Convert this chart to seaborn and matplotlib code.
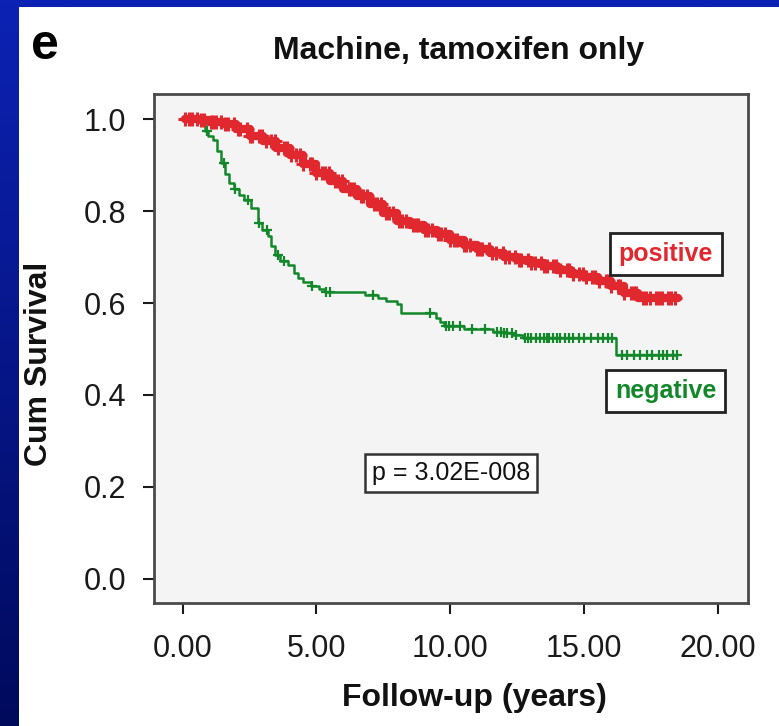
import numpy as np
import pandas as pd
import matplotlib
matplotlib.use("Agg")
import matplotlib.pyplot as plt
from matplotlib.colors import LinearSegmentedColormap
from matplotlib.patches import Rectangle
import seaborn as sns

# ---------------- data ----------------
pos_times = [0.10, 0.60, 1.00, 1.50, 2.00, 2.50, 3.00, 3.50, 4.00, 4.50, 5.00,
             5.50, 6.00, 6.50, 7.00, 7.50, 8.00, 8.50, 9.00, 9.50, 10.00, 10.50,
             11.00, 11.50, 12.00, 12.50, 13.00, 13.50, 14.00, 14.50, 15.00,
             15.50, 16.00, 16.50, 17.00, 17.50, 18.50]
pos_surv = [1.000, 0.998, 0.995, 0.990, 0.978, 0.963, 0.952, 0.938, 0.922,
            0.902, 0.884, 0.866, 0.848, 0.832, 0.815, 0.795, 0.779, 0.770,
            0.760, 0.751, 0.738, 0.726, 0.717, 0.708, 0.701, 0.694, 0.687,
            0.680, 0.672, 0.664, 0.657, 0.648, 0.636, 0.622, 0.612, 0.610, 0.610]
pos_censor = [0.10, 0.25, 0.35, 0.55, 0.70, 0.80, 1.05, 1.15, 1.25, 1.45, 1.60,
              1.70, 1.90, 2.05, 2.15, 2.40, 2.50, 2.60, 2.85, 2.95, 3.10, 3.30,
              3.45, 3.55, 3.80, 3.90, 4.05, 4.25, 4.40, 4.50, 4.75, 4.85, 5.00,
              5.20, 5.30, 5.45, 5.70, 5.80, 5.95, 6.20, 6.30, 6.40, 6.65, 6.75,
              6.90, 7.15, 7.25, 7.40, 7.60, 7.70, 7.85, 8.10, 8.20, 8.35, 8.60,
              8.70, 8.80, 9.05, 9.15, 9.30, 9.55, 9.65, 9.80, 10.00, 10.15,
              10.25, 10.50, 10.60, 10.75, 11.00, 11.10, 11.20, 11.45, 11.55,
              11.70, 11.95, 12.05, 12.20, 12.40, 12.55, 12.65, 12.90, 13.00,
              13.15, 13.40, 13.50, 13.60, 13.85, 13.95, 14.10, 14.35, 14.45,
              14.60, 14.80, 14.95, 15.05, 15.30, 15.40, 15.55, 15.80, 15.90,
              16.00, 16.25, 16.35, 16.50, 16.75, 16.85, 16.95, 17.20, 17.30,
              17.45, 17.70, 17.80, 17.90, 18.15, 18.25, 18.40]

neg_times = [0.15, 0.72, 0.85, 0.95, 1.15, 1.30, 1.45, 1.60, 1.75, 1.90, 2.10,
             2.30, 2.55, 2.80, 2.95, 3.20, 3.30, 3.45, 3.65, 3.95, 4.15, 4.30,
             4.50, 4.80, 5.10, 5.30, 6.80, 7.30, 7.60, 8.00, 8.15, 9.45, 9.60,
             9.75, 10.50, 11.60, 12.00, 12.35, 12.70, 16.20, 18.45]
neg_surv = [1.000, 0.993, 0.975, 0.963, 0.955, 0.930, 0.905, 0.880, 0.862,
            0.848, 0.836, 0.824, 0.806, 0.775, 0.760, 0.745, 0.725, 0.705,
            0.692, 0.682, 0.665, 0.655, 0.645, 0.638, 0.630, 0.625, 0.618,
            0.610, 0.605, 0.597, 0.578, 0.567, 0.558, 0.549, 0.544, 0.538,
            0.535, 0.530, 0.524, 0.487, 0.487]
neg_censor = [0.90, 1.55, 1.95, 2.45, 2.85, 3.15, 3.55, 3.80, 4.85, 5.35, 5.50,
              7.10, 9.25, 9.85, 9.95, 10.10, 10.35, 10.80, 11.30, 11.75, 11.90,
              12.00, 12.10, 12.30, 12.45, 12.80, 12.90, 13.00, 13.20, 13.35,
              13.50, 13.60, 13.70, 13.85, 14.00, 14.10, 14.30, 14.45, 14.60,
              14.80, 15.00, 15.25, 15.50, 15.70, 15.90, 16.05, 16.40, 16.60,
              16.85, 17.10, 17.35, 17.55, 17.80, 17.95, 18.10, 18.30, 18.45]

x_ticks = [0, 5, 10, 15, 20]
x_tick_labels = ["0.00", "5.00", "10.00", "15.00", "20.00"]
y_ticks = [0.0, 0.2, 0.4, 0.6, 0.8, 1.0]
y_tick_labels = ["0.0", "0.2", "0.4", "0.6", "0.8", "1.0"]
p_text = "p = 3.02E-008"

RED = "#e0282e"
GREEN = "#13882a"


def surv_at(times, survs, t):
    times = np.asarray(times)
    idx = np.searchsorted(times, t, side="right") - 1
    idx = np.clip(idx, 0, len(survs) - 1)
    return np.asarray(survs)[idx]


pos_df = pd.DataFrame({"t": pos_times, "s": pos_surv})
neg_df = pd.DataFrame({"t": neg_times, "s": neg_surv})
pos_c = pd.DataFrame({"t": pos_censor, "s": surv_at(pos_times, pos_surv, pos_censor)})
neg_c = pd.DataFrame({"t": neg_censor, "s": surv_at(neg_times, neg_surv, neg_censor)})

# ---------------- style ----------------
sns.set_theme(style="ticks")
plt.rcParams["font.family"] = ["Liberation Sans", "DejaVu Sans"]

W, H = 779, 726
fig = plt.figure(figsize=(W / 100, H / 100), dpi=100)

# blue slide background with white panel
bg = fig.add_axes([0, 0, 1, 1], zorder=-10)
cmap = LinearSegmentedColormap.from_list("slide", ["#0c22b4", "#000a5c"])
bg.imshow(np.linspace(0, 1, 256).reshape(-1, 1), cmap=cmap, aspect="auto",
          extent=[0, 1, 0, 1])
bg.add_patch(Rectangle((19 / W, 0), 1, (H - 7) / H, transform=bg.transAxes,
                       facecolor="white", edgecolor="none"))
bg.set_xlim(0, 1)
bg.set_ylim(0, 1)
bg.axis("off")

ax = fig.add_axes([154 / W, 123 / H, 594 / W, 509 / H])
ax.set_facecolor("#f4f4f4")

# curves
sns.lineplot(data=pos_df, x="t", y="s", ax=ax, color=RED, lw=6,
             drawstyle="steps-post", estimator=None, sort=False)
sns.scatterplot(data=pos_c, x="t", y="s", ax=ax, color=RED, marker="+",
                s=90, linewidth=2.2, zorder=3)
sns.lineplot(data=neg_df, x="t", y="s", ax=ax, color=GREEN, lw=1.8,
             drawstyle="steps-post", estimator=None, sort=False)
sns.scatterplot(data=neg_c, x="t", y="s", ax=ax, color=GREEN, marker="+",
                s=55, linewidth=1.6, zorder=3)

ax.set_xlim(-1.07, 21.12)
ax.set_ylim(-0.053, 1.055)
ax.set_xticks(x_ticks)
ax.set_xticklabels(x_tick_labels)
ax.set_yticks(y_ticks)
ax.set_yticklabels(y_tick_labels)
ax.tick_params(axis="both", labelsize=22, colors="#1a1a1a", length=8, width=1.5,
               direction="out")
ax.tick_params(axis="y", pad=12)
ax.tick_params(axis="x", pad=14)

for sp in ax.spines.values():
    sp.set_visible(True)
    sp.set_color("#4a4a4a")
    sp.set_linewidth(2)

ax.set_xlabel("Follow-up (years)", fontsize=23, fontweight="bold", color="#111111")
ax.xaxis.set_label_coords(0.539, -0.157)
ax.xaxis.label.set_va("top")
ax.set_ylabel("Cum Survival", fontsize=23, fontweight="bold", color="#111111")
ax.yaxis.label.set_va("center")
ax.yaxis.set_label_coords(-0.193, 0.47)

# annotations
ax.text(18.05, 0.707, "positive", color=RED, fontsize=18, fontweight="bold",
        ha="center", va="center",
        bbox=dict(boxstyle="square,pad=0.35", fc="white", ec="#222222", lw=2))
ax.text(18.05, 0.408, "negative", color=GREEN, fontsize=18, fontweight="bold",
        ha="center", va="center",
        bbox=dict(boxstyle="square,pad=0.35", fc="white", ec="#222222", lw=2))
ax.text(10.02, 0.2305, p_text, color="#111111", fontsize=18,
        ha="center", va="center",
        bbox=dict(boxstyle="square,pad=0.28", fc="white", ec="#333333", lw=1.8))

fig.text(459 / W, 1 - 59 / H, "Machine, tamoxifen only", fontsize=23,
         fontweight="bold", ha="center", va="baseline", color="#111111")
fig.text(45 / W, 1 - 59 / H, "e", fontsize=36, fontweight="bold",
         ha="center", va="baseline", color="#000000")

fig.savefig("out.png", dpi=100)
